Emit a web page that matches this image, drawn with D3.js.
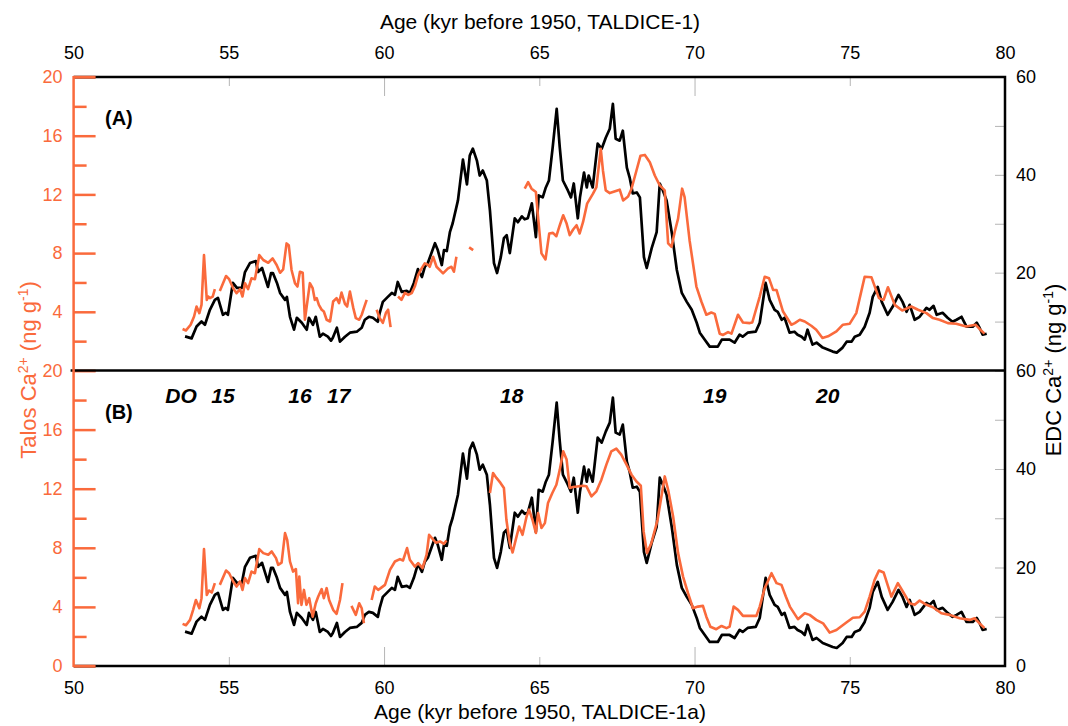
<!DOCTYPE html>
<html><head><meta charset="utf-8">
<script src="https://cdn.jsdelivr.net/npm/d3@7"></script>
<style>
body{margin:0;background:#fff;}
text{font-family:"Liberation Sans",Arial,sans-serif;}
</style>
</head><body>
<svg id="chart" width="1068" height="726"></svg>
<script>
// ---------------- DATA ----------------
// EDC Ca2+ (ng/g), same record in both panels
const edcAge=[53.59,53.80,53.96,54.12,54.23,54.39,54.55,54.65,54.81,54.90,54.97,55.13,55.26,55.42,55.52,55.68,55.87,55.94,56.07,56.26,56.36,56.42,56.55,56.65,56.81,56.87,56.97,57.10,57.19,57.35,57.51,57.58,57.71,57.80,57.93,58.03,58.19,58.29,58.35,58.48,58.58,58.74,58.90,59.12,59.28,59.38,59.51,59.64,59.80,59.86,59.96,60.12,60.25,60.35,60.44,60.57,60.73,60.83,60.96,61.09,61.22,61.31,61.41,61.64,61.73,61.86,61.93,62.02,62.12,62.21,62.38,62.54,62.67,62.76,62.86,62.99,63.08,63.18,63.31,63.41,63.54,63.64,63.76,63.86,63.95,64.05,64.21,64.31,64.44,64.53,64.63,64.76,64.89,64.98,65.11,65.21,65.31,65.43,65.56,65.66,65.76,65.92,66.02,66.11,66.24,66.31,66.44,66.53,66.59,66.72,66.88,67.01,67.14,67.27,67.37,67.46,67.59,67.69,67.82,67.91,68.01,68.14,68.24,68.37,68.46,68.62,68.78,68.88,68.98,69.10,69.27,69.43,69.59,69.75,69.91,70.07,70.17,70.33,70.49,70.75,70.88,71.13,71.29,71.45,71.55,71.71,71.97,72.10,72.29,72.42,72.58,72.68,72.81,72.90,73.06,73.22,73.32,73.45,73.55,73.64,73.80,73.93,74.13,74.29,74.45,74.58,74.77,74.90,75.06,75.16,75.32,75.48,75.64,75.74,75.90,76.03,76.22,76.38,76.57,76.70,76.83,76.93,77.09,77.25,77.47,77.57,77.70,77.80,77.99,78.15,78.31,78.44,78.60,78.76,78.96,79.09,79.18,79.28,79.41];
const edcVal=[6.98,6.57,9.01,10.03,9.36,12.41,14.44,14.85,11.39,11.80,11.39,17.90,16.88,16.88,20.13,21.97,22.37,20.13,20.95,17.08,19.93,19.93,17.90,15.86,14.44,15.05,10.98,8.34,10.78,9.76,8.34,10.78,9.36,10.98,6.91,7.52,6.91,6.10,6.71,8.75,5.90,6.91,7.73,7.93,8.75,10.37,10.98,10.78,9.97,11.80,14.03,15.05,15.86,15.46,18.10,16.07,16.27,15.86,17.90,20.74,19.12,21.15,21.97,26.03,24.61,21.56,24.61,24.41,28.27,30.10,34.78,43.12,38.03,43.93,45.35,42.91,39.86,40.88,38.84,32.74,21.97,19.93,23.18,27.05,27.66,24.00,31.12,30.30,31.52,30.91,31.12,34.17,27.25,35.79,35.39,37.42,38.84,45.56,53.49,45.56,38.84,36.81,35.39,38.23,31.12,35.39,40.47,37.42,39.86,37.42,46.37,45.35,47.59,49.42,54.50,47.39,46.98,49.01,41.49,39.45,36.20,36.40,35.39,23.18,20.95,25.01,28.27,38.23,36.81,34.78,28.07,20.54,15.86,14.03,12.41,9.76,7.73,6.30,4.88,4.88,6.30,6.30,5.69,7.32,6.91,7.73,7.93,9.76,17.90,14.44,12.41,12.00,10.37,10.78,7.73,7.93,7.32,6.91,6.30,8.34,5.29,5.69,4.68,4.27,3.86,3.66,4.68,5.90,5.90,6.91,7.32,8.95,11.80,15.05,17.08,14.03,11.39,13.02,15.46,14.03,12.00,13.42,10.37,10.98,12.81,12.41,13.22,11.39,11.80,10.78,9.97,10.37,10.98,8.95,8.95,9.76,8.75,7.32,7.52];

// Talos Ca2+ (ng/g) on TALDICE-1 (panel A); null = gap
const talosAAge=[53.51,53.62,53.77,53.88,53.96,54.05,54.12,54.20,54.29,54.34,54.39,54.48,54.55,54.63,54.71,54.91,55.01,55.14,55.25,55.36,55.44,55.52,55.62,55.73,55.84,55.98,56.11,56.27,56.41,56.54,56.65,56.75,56.86,56.93,57.02,57.13,57.21,57.29,57.38,57.45,57.61,57.70,57.77,57.83,57.90,57.99,58.06,58.15,58.26,58.36,58.47,58.55,58.63,58.74,58.81,58.90,59.01,59.09,59.20,59.28,59.35,59.44,59.60,59.76,59.86,59.96,60.06,60.13,60.21,60.33,60.45,60.56,60.67,60.78,60.89,60.99,61.10,61.21,61.31,61.42,61.47,61.58,61.69,61.90,62.06,62.17,62.25,62.33,62.50,62.74,62.87,63.70,64.53,64.64,64.75,64.89,64.96,65.07,65.20,65.32,65.44,65.55,65.66,65.77,65.88,65.98,66.09,66.20,66.30,66.41,66.54,66.73,66.84,66.98,67.05,67.14,67.27,67.59,67.70,67.86,67.97,68.13,68.26,68.40,68.56,68.72,68.88,69.04,69.15,69.26,69.36,69.47,69.60,69.68,69.84,70.06,70.22,70.38,70.54,70.65,70.81,70.92,71.08,71.19,71.40,71.56,71.78,71.86,72.10,72.26,72.40,72.53,72.64,72.85,73.12,73.23,73.39,73.55,73.76,73.92,74.12,74.30,74.57,74.78,75.00,75.21,75.48,75.70,75.94,76.09,76.23,76.45,76.69,76.98,77.20,77.47,77.68,77.89,78.16,78.43,78.75,79.05,79.18,79.34];
const talosAVal=[2.83,2.73,3.12,3.68,4.36,3.91,4.47,7.86,4.81,5.04,4.93,5.04,5.54,null,5.42,6.44,6.22,5.61,5.27,5.54,5.04,5.95,5.54,6.28,6.22,7.86,7.53,7.34,7.64,7.19,6.66,6.89,8.66,8.54,6.85,5.95,5.72,6.73,6.66,3.46,5.95,5.61,4.81,4.93,4.47,4.14,4.02,3.46,3.34,4.70,4.93,4.59,5.31,4.54,4.36,5.38,4.25,3.57,3.46,3.80,4.25,4.81,null,4.14,3.57,3.25,3.93,4.14,2.96,null,5.04,4.81,5.29,5.15,5.27,5.72,6.51,6.96,7.30,7.19,7.07,7.75,7.07,6.62,6.96,7.07,6.73,7.75,null,8.39,8.20,null,12.39,12.83,12.39,12.16,10.46,7.98,7.57,9.34,9.38,9.15,9.90,10.58,10.01,9.22,9.61,9.90,9.34,10.12,11.37,12.05,12.49,15.10,13.63,12.27,12.09,12.32,11.59,11.86,12.39,13.63,14.64,14.69,14.19,13.29,12.61,12.27,8.66,8.43,9.44,10.35,12.39,11.82,8.88,5.72,4.70,3.80,3.95,3.86,2.51,2.42,2.62,2.51,3.80,3.27,3.23,3.27,5.04,6.39,6.28,5.49,5.49,4.02,3.12,3.23,3.46,3.34,3.05,2.78,2.22,2.33,2.66,3.12,3.19,3.91,6.39,6.35,4.93,4.81,5.67,4.47,4.09,4.36,4.14,3.91,3.57,3.46,3.23,3.19,3.00,3.12,2.83,2.51];

// Talos Ca2+ (ng/g) on TALDICE-1a (panel B); null = gap
const talosBAge=[53.51,53.62,53.75,53.85,53.94,54.05,54.12,54.20,54.29,54.36,54.45,54.55,54.63,54.71,54.91,55.01,55.14,55.25,55.36,55.44,55.52,55.62,55.73,55.84,55.98,56.11,56.27,56.38,56.52,56.59,56.70,56.81,56.88,56.97,57.07,57.16,57.23,57.27,57.34,57.42,57.50,57.59,57.70,57.80,57.88,57.99,58.06,58.15,58.23,58.36,58.47,58.58,58.66,58.80,58.95,59.09,59.20,59.28,59.35,59.48,59.60,59.70,59.81,59.89,60.03,60.19,60.35,60.51,60.61,60.74,60.83,60.99,61.10,61.24,61.37,61.45,61.67,61.80,61.93,62.01,62.70,63.41,63.51,63.62,63.75,63.86,63.94,64.05,64.14,64.24,64.35,64.46,64.59,64.67,64.78,64.89,64.96,65.07,65.18,65.28,65.42,65.55,65.66,65.77,65.88,65.98,66.09,66.41,66.52,66.68,66.84,67.00,67.16,67.32,67.48,67.64,67.81,67.97,68.13,68.27,68.36,68.47,68.61,68.81,68.88,69.04,69.15,69.31,69.47,69.63,69.79,69.95,70.11,70.27,70.38,70.51,70.70,70.87,71.03,71.13,71.26,71.40,71.56,71.99,72.10,72.26,72.48,72.64,72.80,72.94,73.07,73.33,73.55,73.71,73.92,74.14,74.35,74.57,74.89,75.10,75.32,75.48,75.64,75.80,75.94,76.09,76.34,76.55,76.71,76.93,77.09,77.25,77.47,77.68,77.95,78.22,78.54,78.86,79.02,79.18,79.34];
const talosBVal=[2.85,2.76,3.12,3.80,4.47,3.91,4.59,7.91,4.81,5.11,4.97,5.61,null,5.49,6.46,6.28,5.72,5.38,5.72,5.15,5.95,5.61,6.39,6.28,7.91,7.64,7.53,7.75,7.30,6.85,7.00,9.00,8.54,7.07,6.39,6.56,4.25,6.05,4.14,5.15,4.14,4.59,3.34,4.25,4.70,5.20,4.59,5.27,4.47,3.80,3.53,4.47,5.61,null,4.07,3.46,4.25,3.91,2.89,null,4.47,5.38,5.15,5.27,5.49,6.51,7.07,7.23,7.14,7.98,7.19,6.73,6.96,6.62,7.53,8.88,8.34,8.43,8.27,8.49,null,11.71,13.06,12.73,12.39,12.05,9.90,8.32,7.68,8.54,9.44,8.88,10.12,10.58,9.90,9.00,10.35,9.34,9.67,11.03,11.71,12.27,13.29,14.53,13.97,12.05,12.12,12.20,12.16,11.48,11.82,12.61,13.63,14.53,14.71,14.31,13.63,12.95,12.49,12.20,9.11,7.64,8.32,9.90,10.80,12.83,11.93,10.12,7.64,6.05,4.93,3.91,4.02,4.07,3.34,2.66,2.49,2.71,2.56,2.66,4.02,3.80,3.39,3.39,4.02,5.27,6.28,5.61,5.49,4.70,4.02,3.17,3.57,3.46,3.12,2.89,2.26,2.44,2.94,3.27,3.30,3.68,4.70,5.83,6.46,6.33,4.70,5.61,5.04,4.25,4.14,4.43,4.14,3.98,3.57,3.46,3.23,3.12,3.23,2.89,2.56];

// Axis ticks and annotations
const ageTicks=[50,55,60,65,70,75,80];
const talosMajor=[0,4,8,12,16,20];
const talosMinor=[2,6,10,14,18];
const edcMajor=[0,20,40,60];
const edcMinor=[10,30,50];
const doText=["DO","15","16","17","18","19","20"];
const doAge=[53.46,54.81,57.29,58.54,64.11,70.65,74.29];

// ---------------- DRAW ----------------
const ORANGE="#fa6a3c", GRAY="#b5b5b5";
const svg=d3.select("#chart");
const X0=73.6, X1=1005, TOP=77, MID=370.5, BOT=666;
const x=d3.scaleLinear().domain([50,80]).range([X0,X1]);

const edcData=edcAge.map((a,i)=>[a,edcVal[i]]);
const panels=[
  {top:TOP,bot:MID,data:talosAAge.map((a,i)=>[a,talosAVal[i]]),label:"(A)",first:true},
  {top:MID,bot:BOT,data:talosBAge.map((a,i)=>[a,talosBVal[i]]),label:"(B)",first:false}
];

panels.forEach(p=>{
  const yT=d3.scaleLinear().domain([0,20]).range([p.bot,p.top]);
  const yE=d3.scaleLinear().domain([0,60]).range([p.bot,p.top]);
  const g=svg.append("g");
  // right axis (EDC)
  const ra=g.append("g").attr("transform",`translate(${X1},0)`)
    .call(d3.axisRight(yE).tickValues([...edcMajor,...edcMinor]).tickSize(-10).tickPadding(11)
      .tickFormat(d=>{ if(edcMinor.includes(d)) return ""; if(p.first && d===0) return ""; return d;}));
  ra.select(".domain").remove();
  ra.selectAll("line").attr("stroke",GRAY).attr("stroke-width",1);
  ra.selectAll("text").attr("font-size",18).attr("fill","#000");
  // left axis (Talos)
  const la=g.append("g").attr("transform",`translate(${X0},0)`)
    .call(d3.axisLeft(yT).tickValues(talosMajor).tickSize(-22).tickPadding(11)
      .tickFormat(d=>(p.first && d===0)?"":d));
  la.select(".domain").remove();
  la.selectAll("line").attr("stroke",ORANGE).attr("stroke-width",2.5);
  la.selectAll("text").attr("font-size",18).attr("fill",ORANGE);
  const lm=g.append("g").attr("transform",`translate(${X0},0)`)
    .call(d3.axisLeft(yT).tickValues(talosMinor).tickSize(-13).tickFormat(""));
  lm.select(".domain").remove();
  lm.selectAll("line").attr("stroke",ORANGE).attr("stroke-width",2.5);

  // lines
  const lineE=d3.line().x(d=>x(d[0])).y(d=>yE(d[1]));
  const lineT=d3.line().defined(d=>d[1]!=null).x(d=>x(d[0])).y(d=>yT(d[1]));
  g.append("path").datum(edcData).attr("d",lineE).attr("fill","none")
    .attr("stroke","#000").attr("stroke-width",2.7).attr("stroke-linejoin","round");
  g.append("path").datum(p.data).attr("d",lineT).attr("fill","none")
    .attr("stroke",ORANGE).attr("stroke-width",2.6).attr("stroke-linejoin","round");

  g.append("text").attr("x",105).attr("y",p.top+48).attr("font-size",20)
    .attr("font-weight","bold").text(p.label);
});

// top / bottom age axes
const minorAge=[55,65,75], majorAge=[60,70];
function ageAxis(gen,y,pad){
  const a=svg.append("g").attr("transform",`translate(0,${y})`)
    .call(gen(x).tickValues(ageTicks).tickSize(0).tickPadding(pad));
  a.select(".domain").remove();
  a.selectAll("text").attr("font-size",18).attr("fill","#000");
  const m=svg.append("g").attr("transform",`translate(0,${y})`)
    .call(gen(x).tickValues(minorAge).tickSize(-9).tickFormat(""));
  m.select(".domain").remove(); m.selectAll("line").attr("stroke",GRAY);
  const M=svg.append("g").attr("transform",`translate(0,${y})`)
    .call(gen(x).tickValues(majorAge).tickSize(-19).tickFormat(""));
  M.select(".domain").remove(); M.selectAll("line").attr("stroke",GRAY);
}
ageAxis(d3.axisTop,TOP,18);
ageAxis(d3.axisBottom,BOT,15);

// frame
const fr=svg.append("g").attr("fill","none");
fr.append("path").attr("d",`M${X0},${TOP}H${X1}V${BOT}H${X0}`).attr("stroke","#000").attr("stroke-width",2.5);
fr.append("line").attr("x1",X0-3).attr("x2",X1).attr("y1",MID).attr("y2",MID).attr("stroke","#000").attr("stroke-width",2.5);
fr.append("line").attr("x1",X0).attr("x2",X0).attr("y1",TOP-1).attr("y2",BOT+1).attr("stroke",ORANGE).attr("stroke-width",2.5);
fr.append("line").attr("x1",X0).attr("x2",X0+22).attr("y1",TOP).attr("y2",TOP).attr("stroke",ORANGE).attr("stroke-width",2.5);
fr.append("line").attr("x1",X0).attr("x2",X0+22).attr("y1",BOT).attr("y2",BOT).attr("stroke",ORANGE).attr("stroke-width",2.5);

// DO labels
svg.append("g").selectAll("text").data(doText).join("text")
  .attr("x",(d,i)=>x(doAge[i])).attr("y",403).attr("text-anchor","middle")
  .attr("font-size",21).attr("font-weight","bold").attr("font-style","italic").text(d=>d);

// titles
svg.append("text").attr("x",540).attr("y",29).attr("text-anchor","middle").attr("font-size",21)
  .text("Age (kyr before 1950, TALDICE-1)");
svg.append("text").attr("x",540).attr("y",719).attr("text-anchor","middle").attr("font-size",21)
  .text("Age (kyr before 1950, TALDICE-1a)");

function yTitle(xp,color,parts){
  const t=svg.append("text").attr("transform",`translate(${xp},370) rotate(-90)`)
    .attr("text-anchor","middle").attr("font-size",22).attr("fill",color);
  let up=false;
  parts.forEach(([s,sup])=>{
    t.append("tspan").attr("dy",sup?-8:(up?8:0)).attr("font-size",sup?14:22).text(s);
    up=!!sup;
  });
}
yTitle(36,ORANGE,[["Talos Ca",0],["2+",1],[" (ng g",0],["-1",1],[")",0]]);
yTitle(1061,"#000",[["EDC Ca",0],["2+",1],[" (ng g",0],["-1",1],[")",0]]);
</script>
</body></html>
